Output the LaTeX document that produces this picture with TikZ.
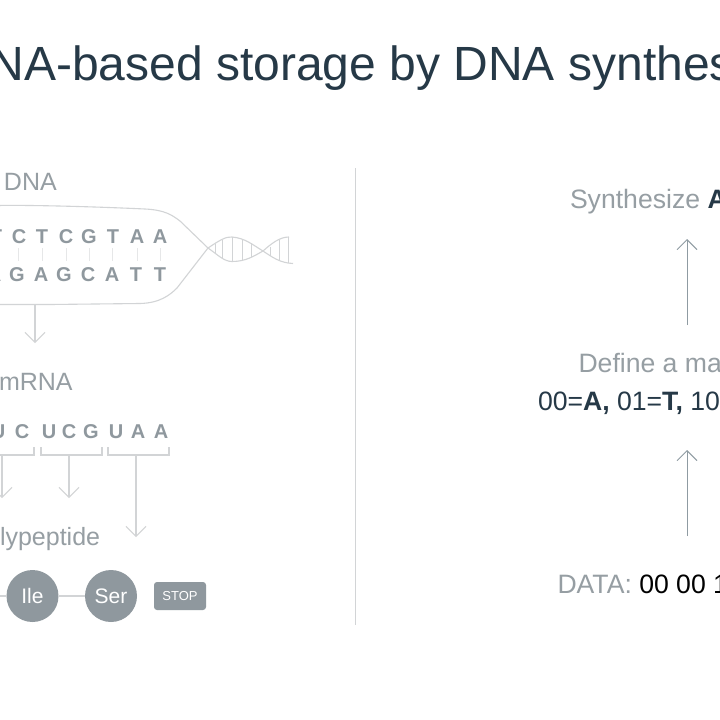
\documentclass[tikz,border=0pt]{standalone}
\usepackage{fontspec}
\setmainfont{Liberation Sans}
\usetikzlibrary{arrows.meta}
\definecolor{labelgrey}{HTML}{969EA3}
\definecolor{basegrey}{HTML}{8F989E}
\definecolor{faint}{HTML}{D2D4D6}
\definecolor{tick}{HTML}{E6E7E8}
\definecolor{ink}{HTML}{263947}
\definecolor{riser}{HTML}{8F9BA2}
\tikzset{
  every node/.style={inner sep=0pt,outer sep=0pt},
  titletext/.style={anchor=base west,text=ink,font=\fontsize{48}{56}\selectfont},
  label/.style={anchor=base west,text=labelgrey,font=\fontsize{25}{30}\selectfont},
  steplabel/.style={anchor=base west,text=labelgrey,font=\fontsize{26.6}{32}\selectfont},
  base/.style={anchor=base,text=basegrey,font=\bfseries\fontsize{20}{24}\selectfont},
  amino/.style={circle,fill=basegrey,minimum size=52pt,text=white,font=\fontsize{21}{25}\selectfont},
  stopbox/.style={rectangle,rounded corners=3pt,fill=basegrey,minimum width=52pt,minimum height=28pt,text=white,font=\fontsize{13}{15}\selectfont},
  softline/.style={draw=faint,line width=1.1pt},
  softarrow/.style={softline,-{Straight Barb[length=10pt,width=20pt,line width=1pt]}},
  riserarrow/.style={draw=riser,line width=1pt,-{Straight Barb[length=10pt,width=20pt,line width=0.9pt]}},
  rung/.style={draw=faint,line width=1pt},
  basetick/.style={draw=tick,line width=1pt}
}
\begin{document}
\begin{tikzpicture}[x=1pt,y=-1pt]
\useasboundingbox (0,0) rectangle (720,720);
\clip (0,0) rectangle (720,720);
\fill[white] (0,0) rectangle (720,720);

% heading
\node[titletext] (heading) at (-10.5,80.5) {NA-based storage by DNA synthes};

% left column: DNA strand pair opening into a helix
\node[label] (dnalabel) at (4,190) {DNA};
\coordinate (fork) at (208,248);
\coordinate (twist) at (263,251);
\draw[softline] (-2,205.5) .. controls (20,205) and (80,206) .. (145,209)
  .. controls (165,210) and (172,215) .. (180,221) -- (fork);
\draw[softline] (-2,304.5) -- (50,304.5) -- (140,303.5)
  .. controls (160,303) and (170,295) .. (177,288) -- (fork);
\draw[softline] (fork) .. controls (220,240) and (226,236.5) .. (232,237)
  .. controls (245,238) and (253,245) .. (twist);
\draw[softline] (fork) .. controls (218,255) and (224,261.5) .. (232,261.5)
  .. controls (246,261.5) and (254,256) .. (twist);
\draw[softline] (twist) .. controls (272,243) and (280,237) .. (289,237);
\draw[softline] (twist) .. controls (272,257) and (280,263) .. (293,263.5);
\foreach \x/\a/\b in {215/243.5/254,222/240/258,232/237/261.5,242/239/260.5,251/243/257,
                      270/246.5/255.5,279/240/260,288/237/263}
  \draw[rung] (\x,\a) -- (\x,\b);

\foreach \n/\x/\t in {a/-4/T,b/19/C,c/42/T,d/66/C,e/89/G,f/113/T,g/137/A,h/160/A}
  \node[base] (top\n) at (\x,243) {\t};
\foreach \n/\x/\t in {a/-6/A,b/17/G,c/41/A,d/64/G,e/88/C,f/112/A,g/136/T,h/160/T}
  \node[base] (bot\n) at (\x,281) {\t};
\foreach \x in {18,42,66,89,112,137,160}
  \draw[basetick] (\x,248) -- (\x,261);

\coordinate (dnaout) at (35,304);
\coordinate (dnaend) at (35,343);
\draw[softarrow] (dnaout) -- (dnaend);

% messenger RNA and its codons
\node[label] (mrnalabel) at (-1,390) {mRNA};
\foreach \n/\x/\t in {a/-2/U,b/22/C,c/49/U,d/69/C,e/91/G,f/116/U,g/138/A,h/161/A}
  \node[base] (rna\n) at (\x,438) {\t};
\draw[softline] (-32,447) |- (34,455) -- (34,447);
\draw[softline] (41,447) |- (102,455) -- (102,447);
\draw[softline] (108,447) |- (169,455) -- (169,447);
\foreach \n/\x/\y in {p/2/498,q/69/498,r/136/537}{
  \coordinate (codon\n) at (\x,455);
  \coordinate (amino\n) at (\x,\y);
  \draw[softarrow] (codon\n) -- (amino\n);
}

% resulting peptide chain
\node[label] (peplabel) at (0,545) {lypeptide};
\coordinate (chainstart) at (-2,596);
\node[amino] (ile) at (32.5,596) {Ile};
\node[amino] (ser) at (111,596) {Ser};
\node[stopbox] (stop) at (180,596) {\raisebox{-1pt}{STOP}};
\draw[softline] (chainstart) -- (ile);
\draw[softline] (ile) -- (ser);

% separator between the two columns
\coordinate (sepa) at (355,168);
\coordinate (sepb) at (355,625);
\draw[draw=faint,line width=1pt] (sepa) -- (sepb);

% right column: encoding steps
\node[steplabel] (synth) at (570,208) {Synthesize \textcolor{ink}{\bfseries A}};
\node[steplabel] (define) at (578.5,372) {Define a ma};
\node[steplabel,text=ink] (mapping) at (538,410) {00=\textbf{A,} 01=\textbf{T,} 10};
\node[steplabel] (data) at (557.5,593) {DATA: \textcolor{black}{00 00 1}};
\coordinate (stepa) at (687,325);
\coordinate (stepb) at (687,239);
\coordinate (stepc) at (687,536);
\coordinate (stepd) at (687,450);
\draw[riserarrow] (stepa) -- (stepb);
\draw[riserarrow] (stepc) -- (stepd);
\end{tikzpicture}
\end{document}
